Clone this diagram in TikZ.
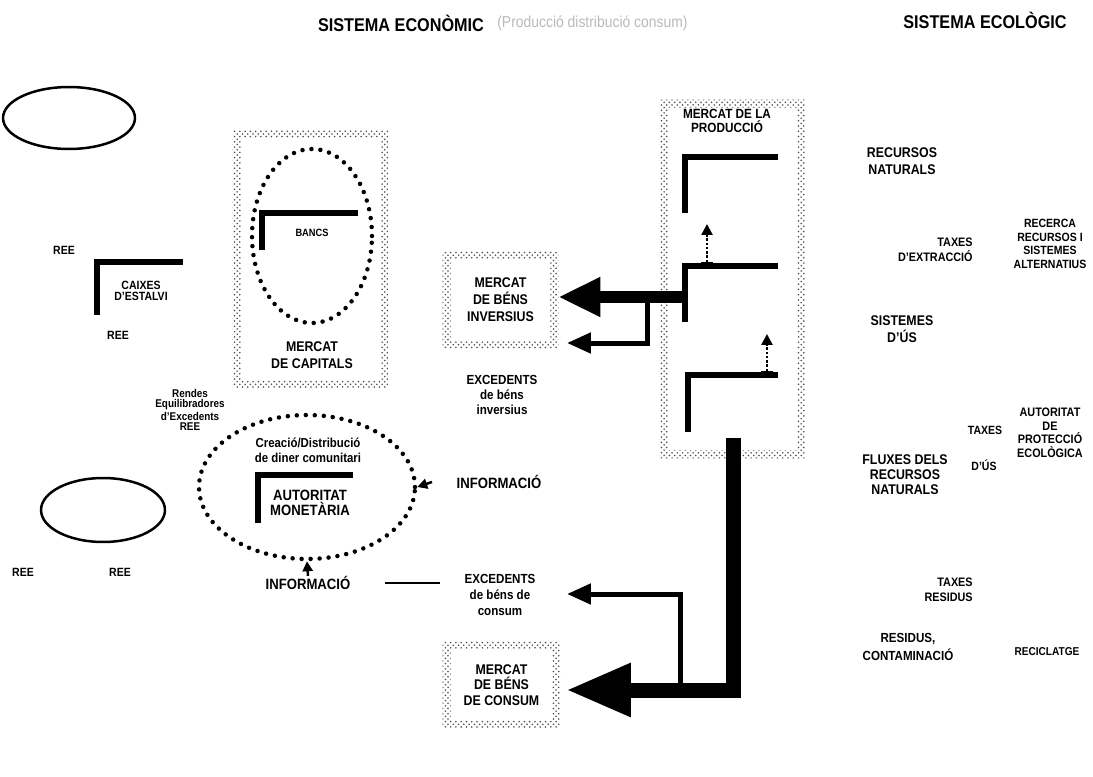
\documentclass[tikz,border=0pt]{standalone}
\usepackage{fontspec}
\setmainfont{Liberation Sans}[FakeStretch=0.88]
\usetikzlibrary{arrows.meta,calc,patterns,shapes.geometric}

\newcommand{\fs}[2]{\fontsize{#1}{#2}\selectfont}
% stippled frame round a box node
\newcommand{\stipframe}[1]{%
  \fill[stipple] (#1.north west) rectangle (#1.south east)
    ($(#1.north west)+(8,8)$) rectangle ($(#1.south east)+(-8,-8)$);}

\begin{document}
\begin{tikzpicture}[x=0.02cm,y=-0.02cm,
  lab/.style={font=\bfseries\fs{8}{9.4},align=center,inner sep=0pt},
  sml/.style={font=\bfseries\fs{6.8}{8},align=center,inner sep=0pt},
  ttl/.style={font=\bfseries\fs{10.5}{12},inner sep=0pt},
  box/.style={rectangle,inner sep=0pt,align=center,font=\bfseries\fs{8}{9.6}},
  stipple/.style={pattern=crosshatch dots,pattern color=black!70,even odd rule},
  dots/.style={draw,ellipse,inner sep=0pt,line width=0.9mm,line cap=round,dash pattern=on 0pt off 1.8mm},
  oval/.style={draw,ellipse,inner sep=0pt,line width=0.5mm},
  brk/.style={line width=1.1mm},
  bigarrow/.style={line width=2.4mm,-{Triangle[length=8.4mm,width=7.4mm]}},
  hugearrow/.style={line width=3mm,line join=miter,-{Triangle[length=13mm,width=10mm]}},
  thinarrow/.style={line width=1mm,line join=miter,-{Triangle[length=4.8mm,width=4mm]}},
  smallarrow/.style={line width=0.5mm,-{Triangle[length=2mm,width=2mm]}},
  dotarrow/.style={line width=0.5mm,densely dotted,{Bar[width=2.4mm]}-{Triangle[length=2.2mm,width=2.2mm]}}]
  \useasboundingbox (0,0) rectangle (1093,777);

  % Titles
  \node[ttl] (econ) at (401,23) {SISTEMA ECONÒMIC};
  \node[font=\fs{9}{10},gray!55,anchor=west,inner sep=0pt] (econsub) at (497,23) {(Producció distribució consum)};
  \node[ttl] (ecol) at (985,20) {SISTEMA ECOLÒGIC};

  % Left column
  \node[oval,minimum width=26.4mm,minimum height=12.4mm] (prodcons) at (69,118) {};
  \node[sml] (ree1) at (64,250) {REE};
  \draw[brk] (183,262) -- (97,262) -- (97,315);
  \node[sml,font=\bfseries\fs{6.8}{6.6}] (caixes) at (141,291) {CAIXES\\D'ESTALVI};
  \node[sml] (ree2) at (118,335) {REE};
  \node[sml,font=\bfseries\fs{6.4}{5.8}] (rendes) at (190,410) {Rendes\\Equilibradores\\d'Excedents\\REE};
  \node[oval,minimum width=24.8mm,minimum height=12.8mm] (estalvi) at (103,510) {};
  \node[sml] (ree3) at (23,572) {REE};
  \node[sml] (ree4) at (120,572) {REE};

  % Mercat de capitals
  \node[box,minimum width=31mm,minimum height=51.6mm] (cap) at (310.5,259) {};
  \stipframe{cap}
  \node[dots,minimum width=24mm,minimum height=34.8mm] (banks) at (312,236) {};
  \draw[brk] (358,213) -- (262,213) -- (262,250);
  \node[sml,font=\bfseries\fs{6}{7}] (bancs) at (312,233) {BANCS};
  \node[lab] (capt) at (312,355) {MERCAT\\DE CAPITALS};

  % Autoritat monetaria
  \node[dots,minimum width=43.2mm,minimum height=28.8mm] (mon) at (307,487) {};
  \node[lab,font=\bfseries\fs{7.4}{8.6}] (creacio) at (308,450) {Creació/Distribució\\de diner comunitari};
  \draw[brk] (353,475) -- (258,475) -- (258,523);
  \node[lab,font=\bfseries\fs{8.5}{8.6}] (autmon) at (310,503) {AUTORITAT\\MONETÀRIA};
  \node[lab,font=\bfseries\fs{8.5}{9}] (info2) at (308,583) {INFORMACIÓ};
  \node[lab,font=\bfseries\fs{8.5}{9}] (info1) at (499,482) {INFORMACIÓ};
  \coordinate (i1) at (432,482);
  \draw[smallarrow] (i1) -- (mon.east);
  \draw[smallarrow] (info2.north) -- (mon.south);
  \coordinate (l1) at (385,583);
  \coordinate (l2) at (440,583);
  \draw[line width=0.4mm] (l1) -- (l2);

  % Mercats de bens
  \node[box,minimum width=23mm,minimum height=19.2mm] (inv) at (500.5,300) {MERCAT\\DE BÉNS\\INVERSIUS};
  \stipframe{inv}
  \node[lab,font=\bfseries\fs{7.5}{8.6}] (exc1) at (502,395) {EXCEDENTS\\de béns\\inversius};
  \node[box,minimum width=23.4mm,minimum height=17.2mm,font=\bfseries\fs{8}{9}] (cons) at (501.5,685) {MERCAT\\DE BÉNS\\DE CONSUM};
  \stipframe{cons}
  \node[lab,font=\bfseries\fs{7.5}{9}] (exc2) at (500,595) {EXCEDENTS\\de béns de\\consum};

  % Mercat de la produccio
  \node[box,minimum width=29mm,minimum height=71.6mm] (prod) at (732.5,279) {};
  \stipframe{prod}
  \node[lab,font=\bfseries\fs{7.6}{7.6}] (prodt) at (727,121) {MERCAT DE LA\\PRODUCCIÓ};
  \draw[brk,line width=1.2mm] (778,157) -- (685,157) -- (685,213);
  \draw[brk,line width=1.2mm] (778,266) -- (685,266) -- (685,322);
  \draw[brk,line width=1.2mm] (778,375) -- (688,375) -- (688,432);
  \draw[dotarrow] (707,264) -- (707,224);
  \draw[dotarrow] (767,373) -- (767,334);

  % Flows out of production
  \coordinate (f1) at (647,297);
  \coordinate (e1) at (567,343);
  \draw[thinarrow] (f1) |- (e1);
  \coordinate (p2) at (688,297);
  \draw[bigarrow] (p2) -- (p2 -| inv.east);
  \coordinate (f2) at (680,690);
  \coordinate (e2) at (567,594);
  \draw[thinarrow] (f2) |- (e2);
  \coordinate (p3) at (733,438);
  \coordinate (c1) at (566,690);
  \draw[hugearrow] (p3) |- (c1);

  % Sistema ecologic
  \node[lab,font=\bfseries\fs{8}{9.6}] (recnat) at (902,161) {RECURSOS\\NATURALS};
  \node[sml,font=\bfseries\fs{7}{8.5},anchor=east,align=right] (taxext) at (973,250) {TAXES\\D'EXTRACCIÓ};
  \node[sml,font=\bfseries\fs{6.8}{7.8}] (recerca) at (1050,244) {RECERCA\\RECURSOS I\\SISTEMES\\ALTERNATIUS};
  \node[lab,font=\bfseries\fs{8}{10}] (sistus) at (902,329) {SISTEMES\\D'ÚS};
  \node[sml] (taxus) at (985,430) {TAXES};
  \node[sml] (dus) at (984,465) {D'ÚS};
  \node[sml,font=\bfseries\fs{7}{7.7}] (autprot) at (1050,433) {AUTORITAT\\DE\\PROTECCIÓ\\ECOLÒGICA};
  \node[lab,font=\bfseries\fs{8}{8.6}] (fluxes) at (905,475) {FLUXES DELS\\RECURSOS\\NATURALS};
  \node[sml,font=\bfseries\fs{7}{8.5},anchor=east,align=right] (taxres) at (973,590) {TAXES\\RESIDUS};
  \node[lab,font=\bfseries\fs{7.5}{10.5}] (residus) at (908,647) {RESIDUS,\\CONTAMINACIÓ};
  \node[sml,font=\bfseries\fs{6.5}{8}] (recicl) at (1047,652) {RECICLATGE};
\end{tikzpicture}
\end{document}
